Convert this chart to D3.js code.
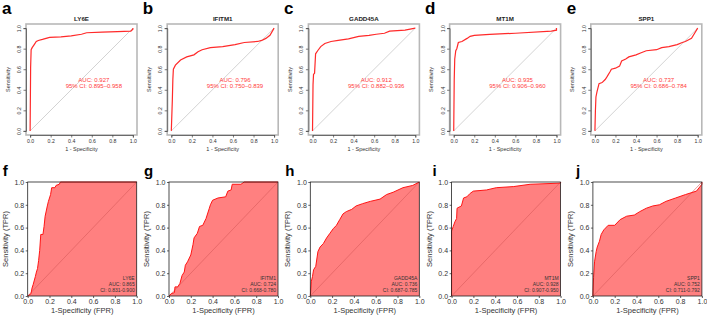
<!DOCTYPE html>
<html>
<head>
<meta charset="utf-8">
<script src="https://cdn.jsdelivr.net/npm/d3@7"></script>
<style>
  body { margin: 0; background: #fff; }
  svg { font-family: "Liberation Sans", Arial, sans-serif; }
</style>
</head>
<body>
<svg id="chart" width="707" height="316"></svg>
<script>
// gene names shared by both rows
let genes = ["LY6E", "IFITM1", "GADD45A", "MT1M", "SPP1"]
let topLetters = ["a", "b", "c", "d", "e"]
let bottomLetters = ["f", "g", "h", "i", "j"]

// top row (training set): AUC and 95% CI
let topAuc = ["0.927", "0.796", "0.912", "0.935", "0.737"]
let topCi = ["0.895\u20130.958", "0.750\u20130.839", "0.882\u20130.936", "0.906\u20130.960", "0.686\u20130.784"]

// bottom row (validation set): AUC and CI
let bottomAuc = ["0.865", "0.724", "0.736", "0.928", "0.752"]
let bottomCi = ["0.831-0.900", "0.668-0.780", "0.687-0.785", "0.907-0.950", "0.711-0.792"]

let ticks = [0, 0.2, 0.4, 0.6, 0.8, 1.0]

// [1 - specificity, sensitivity]
let rocLY6E = [[0,0],[0.005,0.62],[0.01,0.79],[0.02,0.81],[0.04,0.84],[0.06,0.87],[0.08,0.88],[0.12,0.89],[0.19,0.91],[0.3,0.915],[0.4,0.925],[0.5,0.94],[0.55,0.955],[0.7,0.96],[0.85,0.965],[0.98,0.97],[1,0.99],[1,1]]
let rocIFITM1 = [[0,0],[0.01,0.3],[0.015,0.5],[0.02,0.6],[0.04,0.64],[0.09,0.69],[0.15,0.72],[0.22,0.74],[0.26,0.77],[0.3,0.79],[0.38,0.81],[0.5,0.82],[0.62,0.84],[0.71,0.86],[0.84,0.87],[0.88,0.88],[0.92,0.9],[0.96,0.93],[1,1]]
let rocGADD45A = [[0,0],[0.005,0.45],[0.01,0.55],[0.02,0.56],[0.03,0.75],[0.05,0.78],[0.08,0.82],[0.12,0.85],[0.18,0.87],[0.25,0.88],[0.35,0.895],[0.45,0.92],[0.55,0.93],[0.62,0.94],[0.7,0.95],[0.75,0.97],[0.9,0.98],[1,1]]
let rocMT1M = [[0,0],[0.005,0.5],[0.01,0.7],[0.02,0.78],[0.03,0.8],[0.045,0.86],[0.08,0.87],[0.13,0.9],[0.16,0.92],[0.2,0.93],[0.35,0.94],[0.6,0.95],[0.95,0.97],[1,0.98],[1,1]]
let rocSPP1 = [[0,0],[0.005,0.2],[0.01,0.33],[0.02,0.38],[0.04,0.46],[0.07,0.47],[0.1,0.5],[0.12,0.53],[0.15,0.58],[0.16,0.6],[0.2,0.61],[0.24,0.63],[0.26,0.68],[0.3,0.7],[0.33,0.72],[0.4,0.74],[0.45,0.76],[0.5,0.78],[0.6,0.79],[0.65,0.81],[0.72,0.82],[0.8,0.84],[0.85,0.86],[0.88,0.87],[0.94,0.9],[0.97,0.95],[1,1]]

// [FPR, TPR] for the validation panels
let valLY6E = [[0,0],[0.03,0.02],[0.04,0.07],[0.05,0.1],[0.07,0.17],[0.08,0.21],[0.09,0.24],[0.1,0.31],[0.11,0.4],[0.12,0.54],[0.14,0.54],[0.15,0.61],[0.16,0.7],[0.18,0.79],[0.19,0.83],[0.21,0.89],[0.22,0.95],[0.25,0.95],[0.26,0.97],[0.29,0.98],[0.3,1],[1,1]]
let valIFITM1 = [[0,0],[0.02,0.02],[0.05,0.03],[0.055,0.08],[0.08,0.08],[0.1,0.11],[0.12,0.18],[0.14,0.21],[0.15,0.27],[0.17,0.3],[0.2,0.36],[0.22,0.45],[0.23,0.51],[0.26,0.55],[0.28,0.61],[0.31,0.62],[0.34,0.68],[0.37,0.77],[0.38,0.8],[0.4,0.84],[0.45,0.86],[0.52,0.87],[0.54,0.92],[0.57,0.93],[0.58,0.98],[0.66,0.98],[0.69,1],[1,1]]
let valGADD45A = [[0,0],[0.01,0.13],[0.02,0.17],[0.03,0.23],[0.05,0.26],[0.07,0.39],[0.09,0.43],[0.12,0.46],[0.15,0.51],[0.18,0.55],[0.21,0.59],[0.24,0.62],[0.27,0.67],[0.3,0.72],[0.33,0.74],[0.38,0.76],[0.42,0.79],[0.48,0.81],[0.55,0.83],[0.64,0.85],[0.7,0.89],[0.76,0.91],[0.85,0.95],[0.94,0.97],[1,1]]
let valMT1M = [[0,0],[0,0.57],[0.015,0.61],[0.03,0.65],[0.046,0.68],[0.05,0.77],[0.09,0.79],[0.11,0.86],[0.14,0.87],[0.17,0.9],[0.2,0.92],[0.32,0.93],[0.41,0.95],[0.57,0.96],[0.72,0.98],[1,0.99],[1,1]]
let valSPP1 = [[0,0],[0.006,0.16],[0.015,0.3],[0.03,0.39],[0.04,0.43],[0.06,0.48],[0.076,0.54],[0.1,0.58],[0.14,0.62],[0.2,0.62],[0.25,0.67],[0.31,0.7],[0.38,0.71],[0.43,0.74],[0.49,0.77],[0.55,0.79],[0.61,0.8],[0.67,0.83],[0.76,0.86],[0.85,0.89],[0.95,0.92],[1,0.98],[1,1]]

let topCurves = [rocLY6E, rocIFITM1, rocGADD45A, rocMT1M, rocSPP1]
let bottomCurves = [valLY6E, valIFITM1, valGADD45A, valMT1M, valSPP1]

let svg = d3.select("#chart")
let fmt = d3.format(".1f")

// ---- top row: pROC style ----
for (let i = 0; i < 5; i++) {
    let left = 26 + i * 141.2, right = left + 111
    let top = 24, bottom = 135
    let padX = (right - left) * 0.04 / 1.08, padY = (bottom - top) * 0.04 / 1.08
    let x = d3.scaleLinear().domain([0, 1]).range([left + padX, right - padX])
    let y = d3.scaleLinear().domain([0, 1]).range([bottom - padY, top + padY])
    let g = svg.append("g")

    g.append("rect")
        .attr("x", left).attr("y", top)
        .attr("width", right - left).attr("height", bottom - top)
        .attr("fill", "none").attr("stroke", "#b8b8b8").attr("stroke-width", 1.6)

    g.append("line")
        .attr("x1", x(0)).attr("y1", y(0)).attr("x2", x(1)).attr("y2", y(1))
        .attr("stroke", "#c8c8c8").attr("stroke-width", 0.8)

    let xAxis = g.append("g")
        .attr("transform", "translate(0," + bottom + ")")
        .call(d3.axisBottom(x).tickValues(ticks).tickFormat(fmt).tickSize(2.5).tickPadding(2))
    let yAxis = g.append("g")
        .attr("transform", "translate(" + left + ",0)")
        .call(d3.axisLeft(y).tickValues(ticks).tickFormat(fmt).tickSize(2.5).tickPadding(2))
    for (let ax of [xAxis, yAxis]) {
        ax.select(".domain").attr("stroke", "#444").attr("stroke-width", 0.7)
        ax.selectAll(".tick line").attr("stroke", "#444").attr("stroke-width", 0.7)
        ax.selectAll("text").attr("font-size", 5.2).attr("fill", "#333")
            .attr("font-family", "Liberation Sans, Arial, sans-serif")
    }
    yAxis.selectAll(".tick text")
        .attr("transform", function() { return "rotate(-90)" })
        .attr("x", 0).attr("y", 0)
        .attr("dx", 0).attr("dy", 0)
        .attr("text-anchor", "middle")
        .each(function(d) {
            d3.select(this).attr("transform", "translate(-5,0) rotate(-90)")
        })

    g.append("text")
        .attr("x", (left + right) / 2).attr("y", 151)
        .attr("text-anchor", "middle").attr("font-size", 5.5).attr("fill", "#333")
        .text("1 - Specificity")
    g.append("text")
        .attr("transform", "translate(" + (left - 16.5) + "," + ((top + bottom) / 2) + ") rotate(-90)")
        .attr("text-anchor", "middle").attr("font-size", 5.5).attr("fill", "#333")
        .text("Sensitivity")
    g.append("text")
        .attr("x", (left + right) / 2).attr("y", 20.5)
        .attr("text-anchor", "middle").attr("font-size", 6.2).attr("font-weight", "bold").attr("fill", "#222")
        .text(genes[i])

    g.append("path")
        .datum(topCurves[i])
        .attr("fill", "none")
        .attr("stroke", "#ff2a2a")
        .attr("stroke-width", 1.2)
        .attr("d", d3.line().x(d => x(d[0])).y(d => y(d[1])))

    g.append("text")
        .attr("x", x(0.62)).attr("y", y(0.48))
        .attr("text-anchor", "middle").attr("font-size", 6).attr("fill", "#ff3b3b")
        .text("AUC: " + topAuc[i])
    g.append("text")
        .attr("x", x(0.62)).attr("y", y(0.42))
        .attr("text-anchor", "middle").attr("font-size", 6).attr("fill", "#ff3b3b")
        .text("95% CI: " + topCi[i])

    svg.append("text")
        .attr("x", i === 4 ? left - 24 : left - 24 + (i > 0 ? -0.5 : 0)).attr("y", 14)
        .attr("font-size", 17).attr("font-weight", "bold").attr("fill", "#000")
        .text(topLetters[i])
}

// ---- bottom row: filled ROC ----
for (let i = 0; i < 5; i++) {
    let left = 27.7 + i * 141.3, right = left + 109
    let top = 182, bottom = 296
    let x = d3.scaleLinear().domain([0, 1]).range([left, right])
    let y = d3.scaleLinear().domain([0, 1]).range([bottom, top])
    let g = svg.append("g")

    let area = d3.area().x(d => x(d[0])).y0(y(0)).y1(d => y(d[1]))
    g.append("path")
        .datum(bottomCurves[i])
        .attr("fill", "#ff8080")
        .attr("d", area)

    g.append("line")
        .attr("x1", x(0)).attr("y1", y(0)).attr("x2", x(1)).attr("y2", y(1))
        .attr("stroke", "#d85a5a").attr("stroke-width", 0.6)

    g.append("path")
        .datum(bottomCurves[i])
        .attr("fill", "none")
        .attr("stroke", "#ff1414")
        .attr("stroke-width", 1)
        .attr("d", d3.line().x(d => x(d[0])).y(d => y(d[1])))

    g.append("rect")
        .attr("x", left).attr("y", top)
        .attr("width", right - left).attr("height", bottom - top)
        .attr("fill", "none").attr("stroke", "#222").attr("stroke-width", 0.8)

    let xAxis = g.append("g")
        .attr("transform", "translate(0," + bottom + ")")
        .call(d3.axisBottom(x).tickValues(ticks).tickFormat(fmt).tickSize(2).tickPadding(1.5))
    let yAxis = g.append("g")
        .attr("transform", "translate(" + left + ",0)")
        .call(d3.axisLeft(y).tickValues(ticks).tickFormat(fmt).tickSize(2).tickPadding(1.5))
    for (let ax of [xAxis, yAxis]) {
        ax.select(".domain").remove()
        ax.selectAll(".tick line").attr("stroke", "#222").attr("stroke-width", 0.7)
        ax.selectAll("text").attr("font-size", 7).attr("fill", "#333")
            .attr("font-family", "Liberation Sans, Arial, sans-serif")
    }

    g.append("text")
        .attr("x", (left + right) / 2).attr("y", 313)
        .attr("text-anchor", "middle").attr("font-size", 7.5).attr("fill", "#333")
        .text("1-Specificity (FPR)")
    g.append("text")
        .attr("transform", "translate(" + (left - 20) + "," + ((top + bottom) / 2) + ") rotate(-90)")
        .attr("text-anchor", "middle").attr("font-size", 7.5).attr("fill", "#333")
        .text("Sensitivity (TPR)")

    let lines = [genes[i], "AUC: " + bottomAuc[i], "CI: " + bottomCi[i]]
    lines.forEach((t, k) => {
        g.append("text")
            .attr("x", right - 2).attr("y", 280 + k * 6)
            .attr("text-anchor", "end").attr("font-size", 5).attr("fill", "#333")
            .text(t)
    })

    svg.append("text")
        .attr("x", left - 25 + (i === 3 ? 6 : 0) + (i === 4 ? 8 : 0)).attr("y", 175.5)
        .attr("font-size", 15).attr("font-weight", "bold").attr("fill", "#000")
        .text(bottomLetters[i])
}
</script>
</body>
</html>
